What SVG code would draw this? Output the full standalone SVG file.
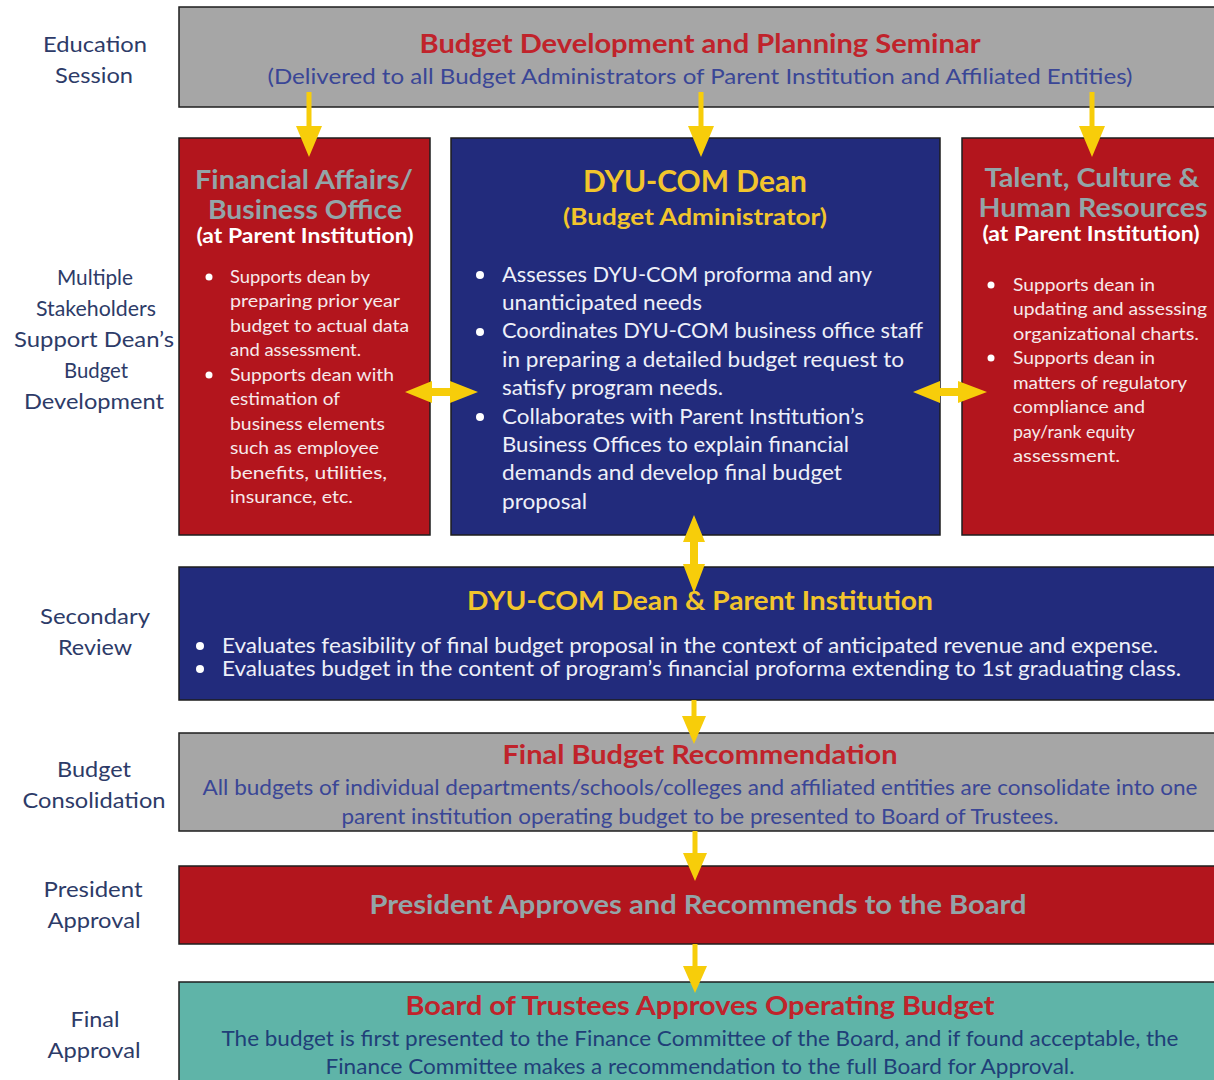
<svg xmlns="http://www.w3.org/2000/svg" width="1214" height="1080" viewBox="0 0 1214 1080">
  <style>
    text { font-family: Lato, "Open Sans", "Liberation Sans", sans-serif; }
    .box { stroke: #1e1e1e; stroke-width: 1.5; }
    .gray { fill: #a6a6a6; }
    .red { fill: #b3151d; }
    .blue { fill: #222b7c; }
    .teal { fill: #5fb4a8; }
    .lbl { font-size: 21.5px; fill: #2d3b68; text-anchor: middle; }
    .h-red { font-size: 27px; font-weight: 700; fill: #c0232b; text-anchor: middle; }
    .h-yel { font-weight: 700; fill: #f2c52c; text-anchor: middle; }
    .h-gry { font-size: 27px; font-weight: 700; fill: #93a5a8; text-anchor: middle; }
    .sub-w { font-size: 20px; font-weight: 700; fill: #ffffff; text-anchor: middle; }
    .sub-b { font-size: 21.5px; fill: #3a4696; text-anchor: middle; }
    .body-t { font-size: 21.5px; fill: #203f78; text-anchor: middle; }
    .bl-s { font-size: 18px; fill: #f6e9ea; }
    .bl-c { font-size: 20.5px; fill: #eef0f8; }
    .dot { fill: #ffffff; }
    .arrow { fill: #f7cd0a; }
  </style>

  <!-- stage labels down the left margin -->
  <g id="stage-labels" lengthAdjust="spacingAndGlyphs">
    <text class="lbl" x="95" y="52" textLength="104" lengthAdjust="spacingAndGlyphs">Education</text>
    <text class="lbl" x="94" y="83" textLength="78" lengthAdjust="spacingAndGlyphs">Session</text>
    <text class="lbl" x="95" y="285" textLength="76" lengthAdjust="spacingAndGlyphs">Multiple</text>
    <text class="lbl" x="96" y="316" textLength="120" lengthAdjust="spacingAndGlyphs">Stakeholders</text>
    <text class="lbl" x="94" y="347" textLength="160" lengthAdjust="spacingAndGlyphs">Support Dean’s</text>
    <text class="lbl" x="96" y="378" textLength="64" lengthAdjust="spacingAndGlyphs">Budget</text>
    <text class="lbl" x="94" y="409" textLength="140" lengthAdjust="spacingAndGlyphs">Development</text>
    <text class="lbl" x="95" y="624" textLength="110" lengthAdjust="spacingAndGlyphs">Secondary</text>
    <text class="lbl" x="95" y="655" textLength="74" lengthAdjust="spacingAndGlyphs">Review</text>
    <text class="lbl" x="94" y="777" textLength="74" lengthAdjust="spacingAndGlyphs">Budget</text>
    <text class="lbl" x="94" y="808" textLength="143" lengthAdjust="spacingAndGlyphs">Consolidation</text>
    <text class="lbl" x="93" y="897" textLength="99" lengthAdjust="spacingAndGlyphs">President</text>
    <text class="lbl" x="94" y="928" textLength="93" lengthAdjust="spacingAndGlyphs">Approval</text>
    <text class="lbl" x="95" y="1027" textLength="49" lengthAdjust="spacingAndGlyphs">Final</text>
    <text class="lbl" x="94" y="1058" textLength="93" lengthAdjust="spacingAndGlyphs">Approval</text>
  </g>

  <!-- education session -->
  <g id="seminar">
    <rect class="box gray" x="179" y="7" width="1045" height="100"/>
    <text class="h-red" x="700" y="53" textLength="561" lengthAdjust="spacingAndGlyphs">Budget Development and Planning Seminar</text>
    <text class="sub-b" x="700" y="84" font-size="22.5" textLength="865" lengthAdjust="spacingAndGlyphs">(Delivered to all Budget Administrators of Parent Institution and Affiliated Entities)</text>
  </g>

  <!-- financial affairs -->
  <g id="financial-affairs">
    <rect class="box red" x="179" y="138" width="251" height="397"/>
    <text class="h-gry" x="304" y="189" font-size="26" textLength="218" lengthAdjust="spacingAndGlyphs">Financial Affairs/</text>
    <text class="h-gry" x="305" y="219" font-size="26" textLength="194" lengthAdjust="spacingAndGlyphs">Business Office</text>
    <text class="sub-w" x="305" y="243" textLength="217" lengthAdjust="spacingAndGlyphs">(at Parent Institution)</text>
    <circle class="dot" cx="209" cy="277" r="3.5"/>
    <circle class="dot" cx="209" cy="375" r="3.5"/>
    <text class="bl-s" x="230" y="283" textLength="140" lengthAdjust="spacingAndGlyphs">Supports dean by</text>
    <text class="bl-s" x="230" y="307" textLength="170" lengthAdjust="spacingAndGlyphs">preparing prior year</text>
    <text class="bl-s" x="230" y="332" textLength="179" lengthAdjust="spacingAndGlyphs">budget to actual data</text>
    <text class="bl-s" x="230" y="356" textLength="131" lengthAdjust="spacingAndGlyphs">and assessment.</text>
    <text class="bl-s" x="230" y="381" textLength="164" lengthAdjust="spacingAndGlyphs">Supports dean with</text>
    <text class="bl-s" x="230" y="405" textLength="110" lengthAdjust="spacingAndGlyphs">estimation of</text>
    <text class="bl-s" x="230" y="430" textLength="155" lengthAdjust="spacingAndGlyphs">business elements</text>
    <text class="bl-s" x="230" y="454" textLength="149" lengthAdjust="spacingAndGlyphs">such as employee</text>
    <text class="bl-s" x="230" y="479" textLength="157" lengthAdjust="spacingAndGlyphs">benefits, utilities,</text>
    <text class="bl-s" x="230" y="503" textLength="123" lengthAdjust="spacingAndGlyphs">insurance, etc.</text>
  </g>

  <!-- dean as budget administrator -->
  <g id="dean">
    <rect class="box blue" x="451" y="138" width="489" height="397"/>
    <text class="h-yel" x="695" y="192" font-size="30" textLength="224" lengthAdjust="spacingAndGlyphs">DYU-COM Dean</text>
    <text class="h-yel" x="695" y="225" font-size="22.5" textLength="264" lengthAdjust="spacingAndGlyphs">(Budget Administrator)</text>
    <circle class="dot" cx="480" cy="275" r="4"/>
    <circle class="dot" cx="480" cy="332" r="4"/>
    <circle class="dot" cx="480" cy="417" r="4"/>
    <text class="bl-c" x="502" y="282" textLength="370" lengthAdjust="spacingAndGlyphs">Assesses DYU-COM proforma and any</text>
    <text class="bl-c" x="502" y="310" textLength="200" lengthAdjust="spacingAndGlyphs">unanticipated needs</text>
    <text class="bl-c" x="502" y="338" textLength="421" lengthAdjust="spacingAndGlyphs">Coordinates DYU-COM business office staff</text>
    <text class="bl-c" x="502" y="367" textLength="402" lengthAdjust="spacingAndGlyphs">in preparing a detailed budget request to</text>
    <text class="bl-c" x="502" y="395" textLength="221" lengthAdjust="spacingAndGlyphs">satisfy program needs.</text>
    <text class="bl-c" x="502" y="424" textLength="362" lengthAdjust="spacingAndGlyphs">Collaborates with Parent Institution’s</text>
    <text class="bl-c" x="502" y="452" textLength="347" lengthAdjust="spacingAndGlyphs">Business Offices to explain financial</text>
    <text class="bl-c" x="502" y="480" textLength="340" lengthAdjust="spacingAndGlyphs">demands and develop final budget</text>
    <text class="bl-c" x="502" y="509" textLength="85" lengthAdjust="spacingAndGlyphs">proposal</text>
  </g>

  <!-- talent, culture and human resources -->
  <g id="human-resources">
    <rect class="box red" x="962" y="138" width="262" height="397"/>
    <text class="h-gry" x="1092" y="187" textLength="215" lengthAdjust="spacingAndGlyphs">Talent, Culture &amp;</text>
    <text class="h-gry" x="1093" y="217" textLength="229" lengthAdjust="spacingAndGlyphs">Human Resources</text>
    <text class="sub-w" x="1091" y="241" textLength="217" lengthAdjust="spacingAndGlyphs">(at Parent Institution)</text>
    <circle class="dot" cx="991" cy="285" r="3.5"/>
    <circle class="dot" cx="991" cy="358" r="3.5"/>
    <text class="bl-s" x="1013" y="291" textLength="142" lengthAdjust="spacingAndGlyphs">Supports dean in</text>
    <text class="bl-s" x="1013" y="315" textLength="194" lengthAdjust="spacingAndGlyphs">updating and assessing</text>
    <text class="bl-s" x="1013" y="340" textLength="186" lengthAdjust="spacingAndGlyphs">organizational charts.</text>
    <text class="bl-s" x="1013" y="364" textLength="142" lengthAdjust="spacingAndGlyphs">Supports dean in</text>
    <text class="bl-s" x="1013" y="389" textLength="174" lengthAdjust="spacingAndGlyphs">matters of regulatory</text>
    <text class="bl-s" x="1013" y="413" textLength="132" lengthAdjust="spacingAndGlyphs">compliance and</text>
    <text class="bl-s" x="1013" y="438" textLength="122" lengthAdjust="spacingAndGlyphs">pay/rank equity</text>
    <text class="bl-s" x="1013" y="462" textLength="107" lengthAdjust="spacingAndGlyphs">assessment.</text>
  </g>

  <!-- secondary review -->
  <g id="secondary-review">
    <rect class="box blue" x="179" y="567" width="1045" height="133"/>
    <text class="h-yel" x="700" y="610" font-size="27" textLength="466" lengthAdjust="spacingAndGlyphs">DYU-COM Dean &amp; Parent Institution</text>
    <circle class="dot" cx="200" cy="646" r="4"/>
    <circle class="dot" cx="200" cy="669" r="4"/>
    <text class="bl-c" x="222" y="653" textLength="936" lengthAdjust="spacingAndGlyphs">Evaluates feasibility of final budget proposal in the context of anticipated revenue and expense.</text>
    <text class="bl-c" x="222" y="676" textLength="959" lengthAdjust="spacingAndGlyphs">Evaluates budget in the content of program’s financial proforma extending to 1st graduating class.</text>
  </g>

  <!-- budget consolidation -->
  <g id="final-recommendation">
    <rect class="box gray" x="179" y="733" width="1045" height="98"/>
    <text class="h-red" x="700" y="764" textLength="395" lengthAdjust="spacingAndGlyphs">Final Budget Recommendation</text>
    <text class="sub-b" x="700" y="795" textLength="995" lengthAdjust="spacingAndGlyphs">All budgets of individual departments/schools/colleges and affiliated entities are consolidate into one</text>
    <text class="sub-b" x="700" y="824" textLength="717" lengthAdjust="spacingAndGlyphs">parent institution operating budget to be presented to Board of Trustees.</text>
  </g>

  <!-- president approval -->
  <g id="president-approval">
    <rect class="box red" x="179" y="866" width="1045" height="78"/>
    <text class="h-gry" x="698" y="914" fill="#9babab" textLength="657" lengthAdjust="spacingAndGlyphs">President Approves and Recommends to the Board</text>
  </g>

  <!-- final approval -->
  <g id="board-approval">
    <rect class="box teal" x="179" y="982" width="1045" height="110"/>
    <text class="h-red" x="700" y="1015" fill="#b3252b" textLength="589" lengthAdjust="spacingAndGlyphs">Board of Trustees Approves Operating Budget</text>
    <text class="body-t" x="700" y="1046" textLength="957" lengthAdjust="spacingAndGlyphs">The budget is first presented to the Finance Committee of the Board, and if found acceptable, the</text>
    <text class="body-t" x="700" y="1074" textLength="749" lengthAdjust="spacingAndGlyphs">Finance Committee makes a recommendation to the full Board for Approval.</text>
  </g>

  <!-- connectors -->
  <g id="connectors">
    <polygon class="arrow" points="306.5,92 311.5,92 311.5,126 322,126 309,157 296,126 306.5,126"/>
    <polygon class="arrow" points="698.5,92 703.5,92 703.5,126 714,126 701,157 688,126 698.5,126"/>
    <polygon class="arrow" points="1089.5,92 1094.5,92 1094.5,126 1105,126 1092,157 1079,126 1089.5,126"/>
    <polygon class="arrow" points="405,392 432,381 432,388 450,388 450,381 478,392 450,403 450,396 432,396 432,403"/>
    <polygon class="arrow" points="913,392 940,381 940,388 958,388 958,381 987,392 958,403 958,396 940,396 940,403"/>
    <polygon class="arrow" points="694,515 705,542 698,542 698,564 705,564 694,593 683,564 690,564 690,542 683,542"/>
    <polygon class="arrow" points="691.5,700 696.5,700 696.5,716 706,716 694,744 682,716 691.5,716"/>
    <polygon class="arrow" points="692.5,831 697.5,831 697.5,853 707,853 695,881 683,853 692.5,853"/>
    <polygon class="arrow" points="692.5,944 697.5,944 697.5,966 707,966 695,993 683,966 692.5,966"/>
  </g>
</svg>
